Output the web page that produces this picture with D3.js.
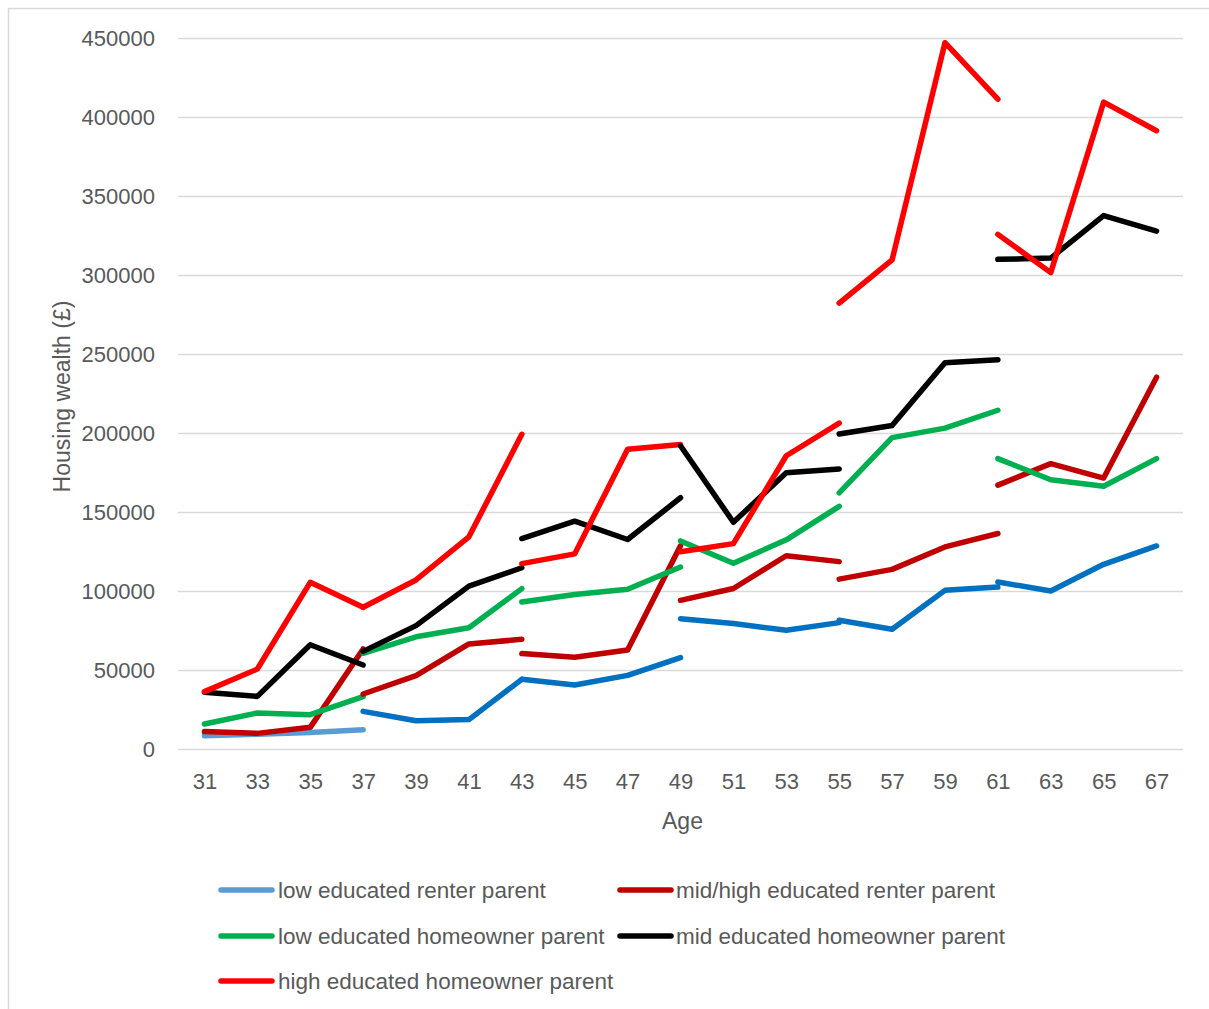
<!DOCTYPE html>
<html>
<head>
<meta charset="utf-8">
<script src="https://cdn.jsdelivr.net/npm/d3@7"></script>
<style>
  html, body { margin: 0; padding: 0; background: #fff; }
  svg { display: block; font-family: "Liberation Sans", Arial, sans-serif; }
</style>
</head>
<body>
<svg id="chart" width="1209" height="1009"></svg>
<script>
// ---------------- DATA ----------------
const ages = ["31","33","35","37","39","41","43","45","47","49","51","53","55","57","59","61","63","65","67"];
const cohortStarts = ["31","37","43","49","55","61"];   // each cohort observed at 4 consecutive ages
const yTicks = [0, 50000, 100000, 150000, 200000, 250000, 300000, 350000, 400000, 450000];

const seriesNames = [
  "low educated renter parent",
  "mid/high educated renter parent",
  "low educated homeowner parent",
  "mid educated homeowner parent",
  "high educated homeowner parent"
];

// values per cohort (4 ages each)
const lowRenter = [
  [8400, 9300, 10500, 12200],
  [23800, 17900, 18600, 44100],
  [44100, 40500, 46600, 57800],
  [82500, 79400, 75100, 80000],
  [81500, 75800, 100400, 102500],
  [105700, 100000, 116900, 128500]
];
const midHighRenter = [
  [11000, 9900, 13700, 63300],
  [34800, 46400, 66500, 69400],
  [60400, 58100, 62700, 128600],
  [94100, 101600, 122300, 118600],
  [107500, 113700, 127900, 136400],
  [167000, 180600, 171500, 235300]
];
const lowOwner = [
  [15800, 22800, 21700, 33100],
  [60600, 71000, 76700, 101500],
  [93000, 97800, 101100, 115200],
  [131700, 117600, 132400, 153600],
  [162100, 197100, 203100, 214400],
  [183800, 170400, 166300, 183800]
];
const midOwner = [
  [35900, 33300, 66000, 53200],
  [61800, 78100, 103100, 114700],
  [133200, 144200, 132600, 159000],
  [191900, 143500, 174900, 177200],
  [199400, 204700, 244500, 246400],
  [309900, 310700, 337600, 327800]
];
const highOwner = [
  [36300, 50600, 105500, 89700],
  [89700, 107000, 134300, 199200],
  [117300, 123500, 189700, 192700],
  [124800, 130000, 185600, 206300],
  [282200, 309500, 447000, 411300],
  [325700, 301500, 409400, 391300]
];

// ---------------- STYLES ----------------
const groupData = [lowRenter, midHighRenter, lowOwner, midOwner, highOwner];
const groupColors = [
  ["#5B9BD5", "#0070C0", "#0070C0", "#0070C0", "#0070C0", "#0070C0"],
  ["#C00000", "#C00000", "#C00000", "#C00000", "#C00000", "#C00000"],
  ["#00B050", "#00B050", "#00B050", "#00B050", "#00B050", "#00B050"],
  ["#000000", "#000000", "#000000", "#000000", "#000000", "#000000"],
  ["#FF0000", "#FF0000", "#FF0000", "#FF0000", "#FF0000", "#FF0000"]
];
const textColor = "#595959";
const gridColor = "#D9D9D9";

// ---------------- LAYOUT ----------------
const svg = d3.select("#chart");
const plot = { left: 178, right: 1183, top: 38, bottom: 749 };

// chart-area border (only top/left visible in the crop)
svg.append("rect")
  .attr("x", 8.5).attr("y", 8.5)
  .attr("width", 1300).attr("height", 1100)
  .attr("fill", "none").attr("stroke", gridColor).attr("stroke-width", 1.5);

const x = d3.scalePoint().domain(ages).range([plot.left, plot.right]).padding(0.5);
const y = d3.scaleLinear().domain([0, 450000]).range([plot.bottom, plot.top]);

// gridlines + y tick labels
const yAxis = svg.append("g")
  .attr("transform", `translate(${plot.left},0)`)
  .call(d3.axisLeft(y).tickValues(yTicks).tickSize(-(plot.right - plot.left)).tickPadding(23).tickFormat(d3.format("d")));
yAxis.select(".domain").remove();
yAxis.selectAll(".tick line").attr("stroke", gridColor).attr("stroke-width", 1.5);
yAxis.selectAll(".tick text")
  .attr("fill", textColor)
  .style("font-size", "22px")
  .style("font-family", "'Liberation Sans', Arial, sans-serif");

// x axis labels
const xAxis = svg.append("g")
  .attr("transform", `translate(0,${plot.bottom})`)
  .call(d3.axisBottom(x).tickSize(0).tickPadding(24));
xAxis.select(".domain").remove();
xAxis.selectAll(".tick text")
  .attr("fill", textColor)
  .style("font-size", "22px")
  .style("font-family", "'Liberation Sans', Arial, sans-serif");

// axis titles
svg.append("text")
  .attr("x", (plot.left + plot.right) / 2 + 2)
  .attr("y", 829)
  .attr("text-anchor", "middle")
  .attr("fill", textColor)
  .style("font-size", "23px")
  .text("Age");

svg.append("text")
  .attr("transform", `translate(70,${(plot.top + plot.bottom) / 2 + 3}) rotate(-90)`)
  .attr("text-anchor", "middle")
  .attr("fill", textColor)
  .style("font-size", "23px")
  .text("Housing wealth (£)");

// lines
const line = d3.line()
  .x(d => x(d.age))
  .y(d => y(d.value));

const linesG = svg.append("g");
cohortStarts.forEach((start, c) => {
  const i0 = ages.indexOf(start);
  groupData.forEach((grp, g) => {
    const pts = grp[c].map((v, k) => ({ age: ages[i0 + k], value: v }));
    linesG.append("path")
      .datum(pts)
      .attr("d", line)
      .attr("fill", "none")
      .attr("stroke", groupColors[g][c])
      .attr("stroke-width", 5.5)
      .attr("stroke-linecap", "round")
      .attr("stroke-linejoin", "round");
  });
});

// legend
const legendPos = [
  { lx: 218, tx: 278, cy: 890 },
  { lx: 617, tx: 676, cy: 890 },
  { lx: 218, tx: 278, cy: 936 },
  { lx: 617, tx: 676, cy: 936 },
  { lx: 218, tx: 278, cy: 981 }
];
const legend = svg.append("g");
seriesNames.forEach((name, i) => {
  const p = legendPos[i];
  legend.append("line")
    .attr("x1", p.lx + 3).attr("x2", p.lx + 54)
    .attr("y1", p.cy).attr("y2", p.cy)
    .attr("stroke", groupColors[i][0])
    .attr("stroke-width", 5.5)
    .attr("stroke-linecap", "round");
  legend.append("text")
    .attr("x", p.tx).attr("y", p.cy)
    .attr("dominant-baseline", "central")
    .attr("fill", textColor)
    .style("font-size", "22.5px")
    .text(name);
});
</script>
</body>
</html>
